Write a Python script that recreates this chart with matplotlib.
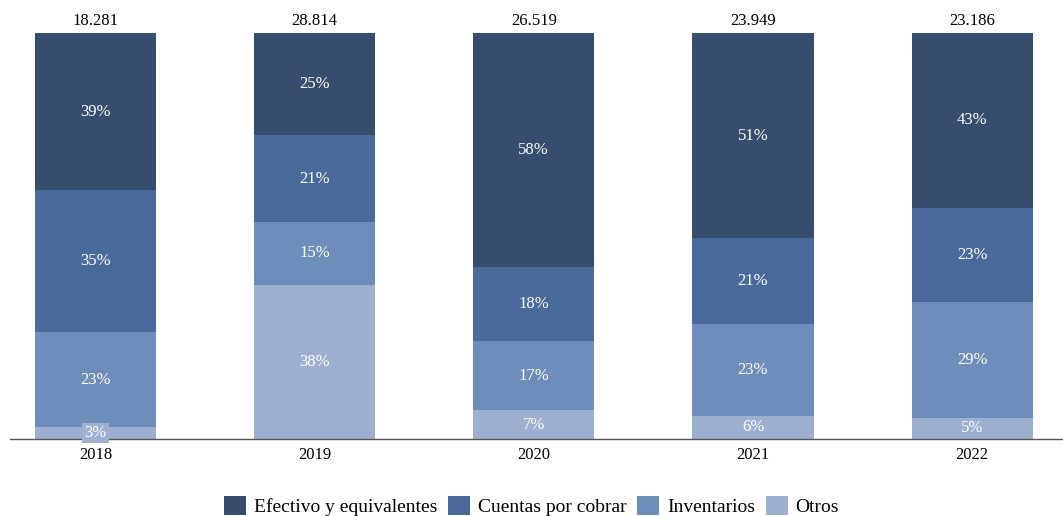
import numpy as np
import matplotlib.pyplot as plt

plt.rcParams['font.family'] = ['Liberation Serif', 'DejaVu Serif']

years = ["2018", "2019", "2020", "2021", "2022"]
totals = ["18.281", "28.814", "26.519", "23.949", "23.186"]

# share of each component (%), stacked from bottom to top
otros = [2.9, 38.0, 7.1, 5.7, 5.2]
inventarios = [23.4, 15.4, 17.0, 22.6, 28.6]
cuentas = [35.0, 21.4, 18.2, 21.1, 23.2]
efectivo = [38.7, 25.2, 57.7, 50.6, 43.0]

series = [
    ("Otros", otros, "#9db0cf"),
    ("Inventarios", inventarios, "#6e8dba"),
    ("Cuentas por cobrar", cuentas, "#4a6a9b"),
    ("Efectivo y equivalentes", efectivo, "#374d6e"),
]

fig = plt.figure(figsize=(10.63, 5.16), dpi=100)
ax = fig.add_axes([10 / 1063, 77 / 516, 1052 / 1063, 406 / 516])

x = np.arange(len(years))
bottom = np.zeros(len(years))
handles = {}
for name, vals, color in series:
    vals = np.array(vals)
    bars = ax.bar(x, vals, width=0.553, bottom=bottom, color=color, label=name)
    handles[name] = bars
    for xi, b, v in zip(x, bottom, vals):
        ax.text(xi, b + v / 2, f"{v:.0f}%", ha="center", va="center",
                color="white", fontsize=12,
                bbox=dict(facecolor=color, edgecolor="none", pad=1.5))
    bottom += vals

for xi, t, top in zip(x, totals, bottom):
    ax.text(xi, top + 1.0, t, ha="center", va="bottom", fontsize=12,
            color="black", clip_on=False)

ax.set_xlim(-0.39, 4.41)
ax.set_ylim(0, 100)
ax.set_xticks(x)
ax.set_xticklabels(years, fontsize=12)
ax.tick_params(axis="x", length=0, pad=6)
ax.set_yticks([])
for s in ["top", "left", "right"]:
    ax.spines[s].set_visible(False)
ax.spines["bottom"].set_color("#555555")
ax.spines["bottom"].set_linewidth(1.0)

order = ["Efectivo y equivalentes", "Cuentas por cobrar", "Inventarios", "Otros"]
fig.legend([handles[n] for n in order], order, loc="center",
           bbox_to_anchor=(0.5, 1 - 506 / 516), ncol=4, frameon=False,
           fontsize=14, handlelength=1.13, handleheight=1.13,
           handletextpad=0.4, columnspacing=0.55)

fig.savefig("out.png", dpi=100, facecolor="white")
